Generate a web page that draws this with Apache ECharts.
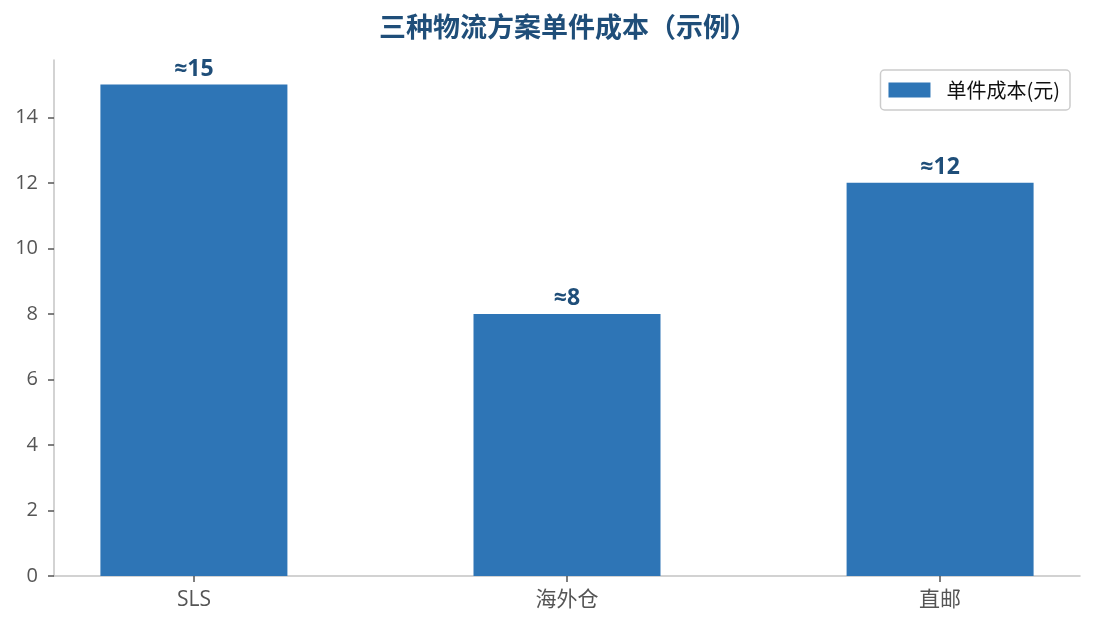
<!DOCTYPE html>
<html>
<head>
<meta charset="utf-8">
<script src="https://cdn.jsdelivr.net/npm/echarts@6/dist/echarts.min.js"></script>
<style>
  html, body { margin: 0; padding: 0; background: #fff; }
  #chart { width: 1095px; height: 629px; }
</style>
</head>
<body>
<div id="chart"></div>
<script>
const categories = ['SLS', '海外仓', '直邮'];
const unitCost = [15, 8, 12];
const costLabels = ['≈15', '≈8', '≈12'];
const yTicks = [0, 2, 4, 6, 8, 10, 12, 14];
const xTicks = [0, 1, 2];

const fontFamily = '"Open Sans", "Noto Sans CJK SC", sans-serif';
const chart = echarts.init(document.getElementById('chart'));

chart.setOption({
    animation: false,
    textStyle: { fontFamily: fontFamily },
    title: {
        text: '三种物流方案单件成本（示例）',
        left: 563,
        textAlign: 'center',
        top: 8,
        textStyle: {
            fontFamily: '"Noto Sans CJK SC", sans-serif',
            fontSize: 27,
            fontWeight: 'bold',
            color: '#1f4e79'
        }
    },
    legend: {
        right: 25,
        top: 70,
        itemWidth: 42,
        itemHeight: 15,
        padding: [10, 10, 10, 8],
        borderColor: '#cccccc',
        borderWidth: 1.5,
        borderRadius: 4,
        icon: 'rect',
        textStyle: {
            fontFamily: '"Noto Sans CJK SC", sans-serif',
            fontSize: 20,
            color: '#111',
            padding: [0, 0, 0, 11]
        },
        data: ['单件成本(元)']
    },
    grid: {
        left: 54,
        right: 15,
        top: 60,
        bottom: 53,
        containLabel: false
    },
    xAxis: {
        type: 'value',
        min: -0.375,
        max: 2.375,
        splitLine: { show: false },
        axisLine: { onZero: false, lineStyle: { color: '#c4c4c4', width: 1.5 } },
        axisTick: {
            customValues: xTicks,
            length: 6,
            lineStyle: { color: '#555', width: 1.5 }
        },
        axisLabel: {
            customValues: xTicks,
            formatter: v => categories[v],
            fontSize: 21,
            color: '#555',
            margin: 14
        }
    },
    yAxis: {
        type: 'value',
        min: 0,
        max: 15.75,
        splitLine: { show: false },
        axisLine: { show: true, onZero: false, lineStyle: { color: '#c4c4c4', width: 1.5 } },
        axisTick: {
            show: true,
            customValues: yTicks,
            length: 6,
            lineStyle: { color: '#555', width: 1.5 }
        },
        axisLabel: {
            customValues: yTicks,
            fontSize: 20,
            color: '#555',
            margin: 16
        }
    },
    series: [{
        name: '单件成本(元)',
        type: 'bar',
        barWidth: 187,
        itemStyle: { color: '#2e75b6' },
        label: {
            show: true,
            position: 'top',
            distance: 4,
            formatter: p => costLabels[p.dataIndex],
            fontSize: 23,
            fontWeight: 'bold',
            color: '#1f4e79'
        },
        data: unitCost.map((v, i) => [xTicks[i], v])
    }]
});
</script>
</body>
</html>
